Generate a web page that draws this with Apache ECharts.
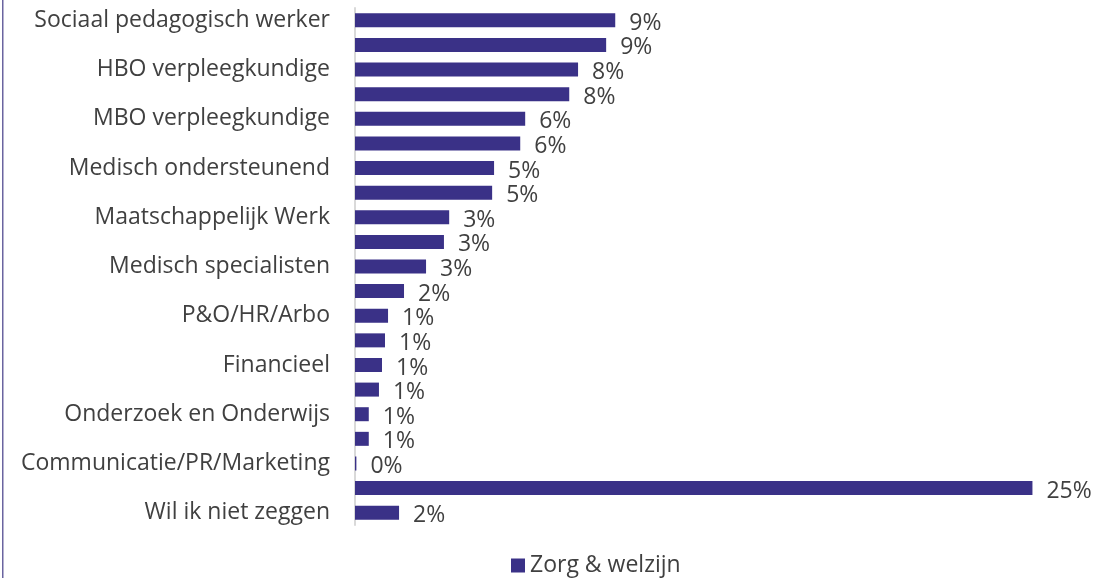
<!DOCTYPE html>
<html>
<head>
<meta charset="utf-8">
<script src="https://cdn.jsdelivr.net/npm/echarts@6/dist/echarts.min.js"></script>
<style>
  html, body { margin: 0; padding: 0; background: #fff; }
  #chart { width: 1120px; height: 578px; }
</style>
</head>
<body>
<div id="chart"></div>
<script>
// categories top to bottom; Excel hid every other label, those are left blank
let categories = [
    'Sociaal pedagogisch werker', '',
    'HBO verpleegkundige', '',
    'MBO verpleegkundige', '',
    'Medisch ondersteunend', '',
    'Maatschappelijk Werk', '',
    'Medisch specialisten', '',
    'P&O/HR/Arbo', '',
    'Financieel', '',
    'Onderzoek en Onderwijs', '',
    'Communicatie/PR/Marketing', '',
    'Wil ik niet zeggen'
];
// percentages
let values = [9.45, 9.12, 8.1, 7.78, 6.18, 6.0, 5.05, 4.98, 3.42, 3.23, 2.58,
    1.78, 1.2, 1.09, 0.98, 0.87, 0.5, 0.5, 0.05, 24.6, 1.6];
let seriesName = 'Zorg & welzijn';

let chart = echarts.init(document.getElementById('chart'));
chart.setOption({
    animation: false,
    textStyle: { fontFamily: 'Open Sans' },
    graphic: [{
        type: 'rect',
        shape: { x: 2, y: 0, width: 1.5, height: 578 },
        style: { fill: '#6a64a0' }
    }],
    legend: {
        data: [seriesName],
        left: 506,
        top: 549,
        itemWidth: 14,
        itemHeight: 14,
        itemGap: 6,
        icon: 'rect',
        textStyle: { fontSize: 23, color: '#404040' }
    },
    grid: { left: 355, top: 8, bottom: 53, width: 716 },
    xAxis: {
        type: 'value',
        min: 0,
        max: 26,
        show: false
    },
    yAxis: {
        type: 'category',
        inverse: true,
        data: categories,
        axisLine: { lineStyle: { color: '#d9d9d9', width: 2 } },
        axisTick: { show: false },
        axisLabel: {
            interval: 0,
            margin: 25,
            fontSize: 23,
            color: '#404040'
        }
    },
    series: [{
        name: seriesName,
        type: 'bar',
        data: values,
        barWidth: 14,
        itemStyle: { color: '#3a3187' },
        label: {
            show: true,
            position: 'right',
            distance: 14,
            offset: [0, 3],
            fontSize: 23,
            color: '#404040',
            formatter: p => Math.round(p.value) + '%'
        }
    }]
});
</script>
</body>
</html>
